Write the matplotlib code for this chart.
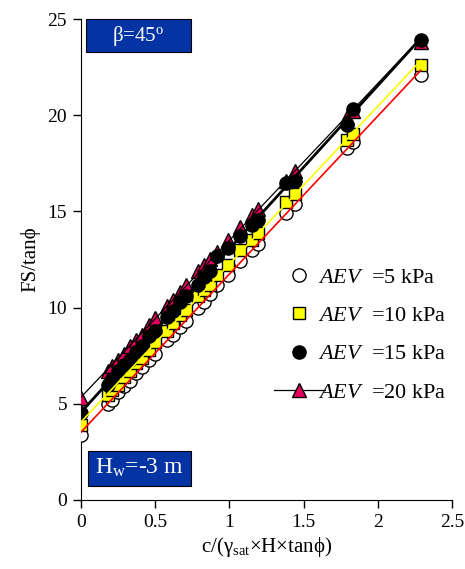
import numpy as np
import matplotlib
matplotlib.use("Agg")
import matplotlib.pyplot as plt
from matplotlib.lines import Line2D
from matplotlib.patches import Rectangle

plt.rcParams['font.family'] = ['Liberation Serif', 'DejaVu Serif']
plt.rcParams['mathtext.fontset'] = 'custom'
plt.rcParams['mathtext.rm'] = 'Liberation Serif'
plt.rcParams['mathtext.it'] = 'Liberation Serif:italic'

# normalised cohesion c/(gamma_sat*H*tan(phi))
x_vals = [0.00, 0.18, 0.21, 0.25, 0.29, 0.33, 0.37, 0.41, 0.46, 0.50, 0.58, 0.62, 0.67, 0.71,
          0.79, 0.83, 0.87, 0.92, 0.99, 1.07, 1.15, 1.19, 1.38, 1.44, 1.79, 1.83, 2.29]

# FS/tan(phi) for each air-entry value
fs_aev5 = [3.4, 5.0, 5.2, 5.6, 5.9, 6.2, 6.6, 6.9, 7.3, 7.6, 8.3, 8.6, 9.0, 9.3,
           10.0, 10.3, 10.7, 11.2, 11.7, 12.4, 13.0, 13.3, 14.9, 15.4, 18.3, 18.6, 22.1]
fs_aev10 = [3.9, 5.45, 5.7, 6.0, 6.4, 6.7, 7.1, 7.4, 7.8, 8.2, 8.8, 9.2, 9.6, 9.9,
            10.6, 10.9, 11.2, 11.7, 12.2, 13.0, 13.5, 13.9, 15.5, 15.9, 18.7, 19.0, 22.6]
fs_aev15 = [4.5, 6.0, 6.3, 6.7, 7.0, 7.3, 7.7, 8.0, 8.5, 8.8, 9.5, 9.8, 10.3, 10.6,
            11.2, 11.6, 11.9, 12.7, 13.1, 13.7, 14.3, 14.55, 16.5, 16.6, 19.5, 20.3, 23.9]
fs_aev20 = [5.3, 6.7, 6.95, 7.3, 7.6, 8.0, 8.3, 8.6, 9.1, 9.45, 10.1, 10.4, 10.8, 11.2,
            11.9, 12.2, 12.5, 12.9, 13.5, 14.2, 14.8, 15.1, 16.6, 17.1, 19.9, 20.2, 23.8]

labels = ['5', '10', '15', '20']

fig = plt.figure(figsize=(4.65, 5.69), dpi=100)
ax = fig.add_axes([0.174, 0.1213, 0.798, 0.8453])

pink = '#E3005E'
series = [
    # y, marker, face, line colour, line width, marker size
    (fs_aev5, 'o', 'white', 'red', 1.2, 9.5),
    (fs_aev10, 's', '#FFFF00', '#FFFF00', 1.2, 8.5),
    (fs_aev20, '^', pink, 'black', 0.9, 9.5),
    (fs_aev15, 'o', 'black', 'black', 2.0, 9.5),
]

x = np.array(x_vals)
for y, m, fc, lc, lw, ms in series:
    y = np.array(y)
    ax.plot(x, y, linestyle='none', marker=m, markerfacecolor=fc,
            markeredgecolor='black', markeredgewidth=1.0, markersize=ms, zorder=3)
    # linear trend line over data range
    k, b = np.polyfit(x, y, 1)
    xl = np.array([x.min(), x.max()])
    ax.plot(xl, k * xl + b, color=lc, lw=lw, zorder=4)

ax.set_xlim(0, 2.5)
ax.set_ylim(0, 25)
ax.set_xticks([0, 0.5, 1, 1.5, 2, 2.5])
ax.set_xticklabels(['0', '0.5', '1', '1.5', '2', '2.5'])
ax.set_yticks([0, 5, 10, 15, 20, 25])
ax.spines['top'].set_visible(False)
ax.spines['right'].set_visible(False)
ax.tick_params(direction='out', length=6, width=1, labelsize=14, pad=4)
ax.set_xlabel('c/(γ$_{\\mathregular{sat}}$×H×tanϕ)', fontsize=15, labelpad=3)
ax.set_ylabel('FS/tanϕ', fontsize=15, labelpad=5)

# text boxes
box_blue = '#0433A3'
ax.add_patch(Rectangle((0.0135, 0.931), 0.283, 0.0684, transform=ax.transAxes,
                       facecolor=box_blue, edgecolor='black', lw=0.8, zorder=5, clip_on=False))
ax.text(0.155, 0.965, 'β=45$^{\\mathregular{o}}$', transform=ax.transAxes, color='white',
        fontsize=15, ha='center', va='center', zorder=6)
ax.add_patch(Rectangle((0.0197, 0.029), 0.278, 0.0735, transform=ax.transAxes,
                       facecolor=box_blue, edgecolor='black', lw=0.8, zorder=5))
ax.text(0.158, 0.066, 'H$_{\\mathregular{w}}$=-3 m', transform=ax.transAxes, color='white',
        fontsize=17, ha='center', va='center', zorder=6)

handles = [
    Line2D([], [], linestyle='none', marker='o', markerfacecolor='white',
           markeredgecolor='black', markersize=9.5),
    Line2D([], [], linestyle='none', marker='s', markerfacecolor='#FFFF00',
           markeredgecolor='black', markersize=8.5),
    Line2D([], [], linestyle='none', marker='o', markerfacecolor='black',
           markeredgecolor='black', markersize=9.5),
    Line2D([], [], color='black', lw=0.9, marker='^', markerfacecolor=pink,
           markeredgecolor='black', markersize=9.5),
]
leg_labels = ['$\\mathit{AEV}$  =%s kPa' % v for v in labels]
ax.legend(handles, leg_labels, loc='center left', bbox_to_anchor=(0.52, 0.343),
          frameon=False, fontsize=16, handlelength=2.3, handletextpad=-0.3,
          labelspacing=0.8, borderpad=0, borderaxespad=0)

fig.savefig('out.png', dpi=100)
